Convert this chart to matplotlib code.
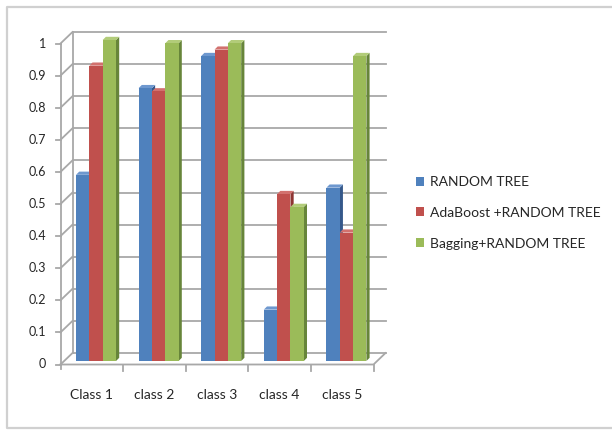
import matplotlib
matplotlib.use("Agg")
import matplotlib.pyplot as plt
from matplotlib.patches import Polygon, Patch
from matplotlib.lines import Line2D

plt.rcParams['font.family'] = ['Lato', 'DejaVu Sans']

categories = ["Class 1", "class 2", "class 3", "class 4", "class 5"]
series_names = ["RANDOM TREE", "AdaBoost +RANDOM TREE", "Bagging+RANDOM TREE"]
random_tree = [0.58, 0.85, 0.95, 0.16, 0.54]
adaboost_rt = [0.92, 0.84, 0.97, 0.52, 0.40]
bagging_rt = [1.00, 0.99, 0.99, 0.48, 0.95]
y_ticks = [0, 0.1, 0.2, 0.3, 0.4, 0.5, 0.6, 0.7, 0.8, 0.9, 1]
y_tick_labels = ["0", "0.1", "0.2", "0.3", "0.4", "0.5", "0.6", "0.7", "0.8", "0.9", "1"]

front_colors = ["#4F81BD", "#C0504D", "#9BBB59"]
side_colors = ["#35588A", "#8E3532", "#67853A"]
top_colors = ["#6E98CF", "#D2716E", "#B2CC79"]
text_col = "#262626"

W, H = 612, 430
fig = plt.figure(figsize=(W / 100, H / 100), dpi=100)
fig.patch.set_facecolor("white")

# axes covering the plane in which the bar fronts stand
px_left, px_right = 64.7, 377.7
px_y0, px_y1 = 361.0, 40.0
ax = fig.add_axes([px_left / W, 1 - px_y0 / H, (px_right - px_left) / W, (px_y0 - px_y1) / H])
ax.set_xlim(-0.5, 4.5)
ax.set_ylim(0, 1)
ax.axis("off")

ppx = (px_right - px_left) / 5.0   # pixels per category
ppy = (px_y0 - px_y1)              # pixels per unit value

# depth offsets (data units) of the back wall and front floor edge
bdx, bdy = 7.8 / ppx, 8.0 / ppy
fdx, fdy = -4.2 / ppx, -3.5 / ppy
# depth of each bar
ddx, ddy = 3.2 / ppx, 3.2 / ppy

grid_col = "#A8A8A8"
lw = 1.3
x0, x1 = -0.5, 4.5

# back wall gridlines and left wall diagonals
for v in y_ticks:
    ax.plot([x0 + bdx, x1 + bdx], [v + bdy, v + bdy], color=grid_col, lw=lw, clip_on=False, zorder=1)
    ax.plot([x0 + fdx, x0 + bdx], [v + fdy, v + bdy], color=grid_col, lw=lw, clip_on=False, zorder=1)
    ax.plot([x0 + fdx - 0.065, x0 + fdx], [v + fdy, v + fdy], color=grid_col, lw=lw, clip_on=False, zorder=1)
# wall edges
ax.plot([x0 + fdx, x0 + fdx], [fdy - 0.015, 1 + fdy], color=grid_col, lw=lw, clip_on=False, zorder=1)
ax.plot([x0 + bdx, x0 + bdx], [bdy, 1 + bdy], color=grid_col, lw=lw, clip_on=False, zorder=1)
# floor
ax.plot([x0 + fdx, x1 + fdx, x1 + bdx], [fdy, fdy, bdy], color=grid_col, lw=lw, clip_on=False, zorder=1)
for b in [0.5, 1.5, 2.5, 3.5, 4.5]:
    ax.plot([b + fdx, b + fdx], [fdy, fdy - 0.02], color=grid_col, lw=lw, clip_on=False, zorder=1)

# y tick labels
for v, lab in zip(y_ticks, y_tick_labels):
    ax.text(x0 + fdx - 0.23, v + fdy, lab, ha="right", va="center", fontsize=9,
            color=text_col, clip_on=False)
# category labels
for i, c in enumerate(categories):
    ax.text(i + fdx, -0.106, c, ha="center", va="center", fontsize=10, color=text_col, clip_on=False)

# bars with side and top faces
series = [random_tree, adaboost_rt, bagging_rt]
bw = 0.213
offsets = [-bw, 0.0, bw]
z = 2
for i in range(len(categories)):
    for s, vals in enumerate(series):
        v = vals[i]
        xc = i + offsets[s]
        xl, xr = xc - bw / 2, xc + bw / 2
        ax.bar(xc, v, width=bw, color=front_colors[s], edgecolor="none", zorder=z + 2)
        side = Polygon([(xr, 0), (xr + ddx, ddy), (xr + ddx, v + ddy), (xr, v)],
                       closed=True, facecolor=side_colors[s], edgecolor="none", zorder=z + 1, clip_on=False)
        top = Polygon([(xl, v), (xl + ddx, v + ddy), (xr + ddx, v + ddy), (xr, v)],
                      closed=True, facecolor=top_colors[s], edgecolor="none", zorder=z + 1, clip_on=False)
        ax.add_patch(side)
        ax.add_patch(top)
        z += 3

# legend
handles = [Patch(facecolor=front_colors[k], edgecolor="none") for k in range(3)]
fig.legend(handles, series_names, loc="upper left", bbox_to_anchor=(416 / W, 1 - 176 / H),
           bbox_transform=fig.transFigure, frameon=False, fontsize=10,
           borderpad=0, borderaxespad=0,
           handlelength=0.6, handleheight=0.6, handletextpad=0.4, labelspacing=1.35,
           labelcolor=text_col)

# chart area border: top, left and bottom edges (the right side runs off the image)
bx = [W + 10, 6.5, 6.5, W + 10]
by = [H - 6.5, H - 6.5, 2.5, 2.5]
fig.lines.append(Line2D([x / W for x in bx], [y / H for y in by], transform=fig.transFigure,
                        color="#D0D0D0", lw=1.6, zorder=0))

fig.savefig("out.png", dpi=100)
